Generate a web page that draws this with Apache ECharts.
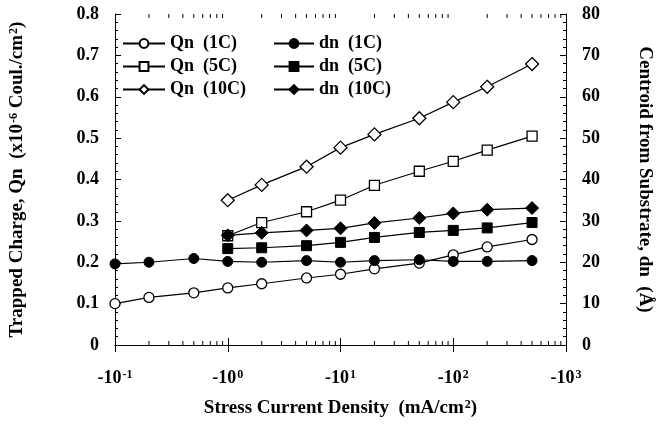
<!DOCTYPE html>
<html>
<head>
<meta charset="utf-8">
<script src="https://cdn.jsdelivr.net/npm/echarts@6/dist/echarts.min.js"></script>
</head>
<body style="margin:0">
<div id="main" style="width:667px;height:428px"></div>
<script>
// stress current density magnitudes (mA/cm2), plotted as -10^n
var currents = [0.1, 0.2, 0.5, 1, 2, 5, 10, 20, 50, 100, 200, 500];
var currentsHi = [1, 2, 5, 10, 20, 50, 100, 200, 500];

// trapped charge Qn (x10^-6 C/cm2)
var qn1C = [0.100, 0.115, 0.126, 0.138, 0.148, 0.162, 0.171, 0.184, 0.198, 0.218, 0.237, 0.255];
var qn5C = [0.264, 0.296, 0.322, 0.350, 0.386, 0.420, 0.444, 0.471, 0.505];
var qn10C = [0.350, 0.387, 0.431, 0.477, 0.509, 0.548, 0.587, 0.624, 0.679];

// centroid dn (Angstrom)
var dn1C = [19.6, 20.0, 20.9, 20.2, 20.0, 20.4, 20.0, 20.4, 20.6, 20.2, 20.2, 20.4];
var dn5C = [23.3, 23.5, 24.0, 24.8, 26.0, 27.2, 27.7, 28.3, 29.6];
var dn10C = [26.5, 27.1, 27.7, 28.2, 29.5, 30.7, 31.8, 32.7, 33.1];

// log minor tick positions
var logMinor = [0.2, 0.3, 0.4, 0.5, 0.6, 0.7, 0.8, 0.9,
  2, 3, 4, 5, 6, 7, 8, 9,
  20, 30, 40, 50, 60, 70, 80, 90,
  200, 300, 400, 500, 600, 700, 800, 900];

var FONT = 'Liberation Serif';

function pairs(xs, ys) {
  return ys.map(function (y, i) { return [xs[i], y]; });
}

function mkSeries(name, xs, ys, axis, symbol, size, open) {
  return {
    name: name,
    type: 'line',
    yAxisIndex: axis,
    data: pairs(xs, ys),
    symbol: symbol,
    symbolSize: size,
    showAllSymbol: true,
    lineStyle: { color: '#000', width: 1.2 },
    itemStyle: open
      ? { color: '#fff', borderColor: '#000', borderWidth: 1.3 }
      : { color: '#000', borderColor: '#000', borderWidth: 1 },
    emphasis: { disabled: true },
    z: open ? 3 : 4
  };
}

var chart = echarts.init(document.getElementById('main'));

var txt = { color: '#000', fontFamily: FONT, fontWeight: 'bold', fontSize: 18 };
var sup = { color: '#000', fontFamily: FONT, fontWeight: 'bold', fontSize: 12, verticalAlign: 'top', padding: [0, 0, 7, 1] };
var nameTxt = { color: '#000', fontFamily: FONT, fontWeight: 'bold', fontSize: 19, rich: { s: sup } };

var option = {
  animation: false,
  grid: { left: 113, right: 101, top: 14, bottom: 83 },
  legend: [
    {
      left: 117, top: 29, orient: 'vertical', itemGap: 4, itemWidth: 42, itemHeight: 11,
      data: ['Qn  (1C)', 'Qn  (5C)', 'Qn  (10C)'],
      textStyle: { color: '#000', fontFamily: FONT, fontWeight: 'bold', fontSize: 18, lineHeight: 19 }
    },
    {
      left: 268, top: 29, orient: 'vertical', itemGap: 4, itemWidth: 40, itemHeight: 11,
      data: ['dn  (1C)', 'dn  (5C)', 'dn  (10C)'],
      textStyle: { color: '#000', fontFamily: FONT, fontWeight: 'bold', fontSize: 18, lineHeight: 19 }
    }
  ],
  xAxis: [
    {
      type: 'log', logBase: 10, min: 0.1, max: 1000,
      axisLine: { lineStyle: { color: '#000', width: 1 } },
      axisTick: { inside: true, length: 7, lineStyle: { color: '#000' } },
      splitLine: { show: false },
      axisLabel: {
        margin: 24,
        formatter: function (v) {
          var e = Math.round(Math.log10(v));
          return '{m|-10}{s|' + e + '}';
        },
        rich: { m: txt, s: sup }
      },
      name: 'Stress Current Density  (mA/cm{s|2})',
      nameLocation: 'middle',
      nameGap: 54,
      nameTextStyle: nameTxt
    },
    {
      type: 'log', logBase: 10, min: 0.1, max: 1000, position: 'top',
      axisLine: { lineStyle: { color: '#000', width: 1 } },
      axisTick: { inside: true, length: 7, lineStyle: { color: '#000' } },
      axisLabel: { show: false },
      splitLine: { show: false }
    }
  ],
  yAxis: [
    {
      type: 'value', min: 0, max: 0.8, interval: 0.1,
      axisLine: { show: true, lineStyle: { color: '#000', width: 1 } },
      axisTick: { show: true, inside: true, length: 6, lineStyle: { color: '#000' } },
      minorTick: { show: true, splitNumber: 5, length: 3, lineStyle: { color: '#000' } },
      splitLine: { show: false },
      axisLabel: Object.assign({ margin: 16 }, txt, {
        formatter: function (v) { return v === 0 ? '0' : v.toFixed(1); }
      }),
      name: 'Trapped Charge, Qn  (x10{s|-6} Coul./cm{s|2})',
      nameLocation: 'middle',
      nameGap: 88,
      nameTextStyle: nameTxt
    },
    {
      type: 'value', min: 0, max: 80, interval: 10, position: 'right',
      axisLine: { show: true, lineStyle: { color: '#000', width: 1 } },
      axisTick: { show: true, inside: true, length: 6, lineStyle: { color: '#000' } },
      minorTick: { show: true, splitNumber: 5, length: 3, lineStyle: { color: '#000' } },
      splitLine: { show: false },
      axisLabel: Object.assign({ margin: 16 }, txt),
      name: 'Centroid from Substrate, dn  (\u00C5)',
      nameLocation: 'middle',
      nameRotate: -90,
      nameGap: 69,
      nameTextStyle: nameTxt
    }
  ],
  series: [
    mkSeries('Qn  (1C)', currents, qn1C, 0, 'circle', 10, true),
    mkSeries('Qn  (5C)', currentsHi, qn5C, 0, 'rect', 10, true),
    mkSeries('Qn  (10C)', currentsHi, qn10C, 0, 'diamond', 13, true),
    mkSeries('dn  (1C)', currents, dn1C, 1, 'circle', 10, false),
    mkSeries('dn  (5C)', currentsHi, dn5C, 1, 'rect', 10, false),
    mkSeries('dn  (10C)', currentsHi, dn10C, 1, 'diamond', 13, false),
    {
      type: 'custom',
      silent: true,
      clip: false,
      data: logMinor.map(function (v) { return [v]; }),
      renderItem: function (params, api) {
        var b = api.coord([api.value(0), 0]);
        var t = api.coord([api.value(0), 0.8]);
        return {
          type: 'group',
          children: [
            { type: 'line', shape: { x1: b[0], y1: b[1], x2: b[0], y2: b[1] - 4 }, style: { stroke: '#000', lineWidth: 1 } },
            { type: 'line', shape: { x1: t[0], y1: t[1], x2: t[0], y2: t[1] + 4 }, style: { stroke: '#000', lineWidth: 1 } }
          ]
        };
      }
    }
  ]
};

chart.setOption(option);
</script>
</body>
</html>
